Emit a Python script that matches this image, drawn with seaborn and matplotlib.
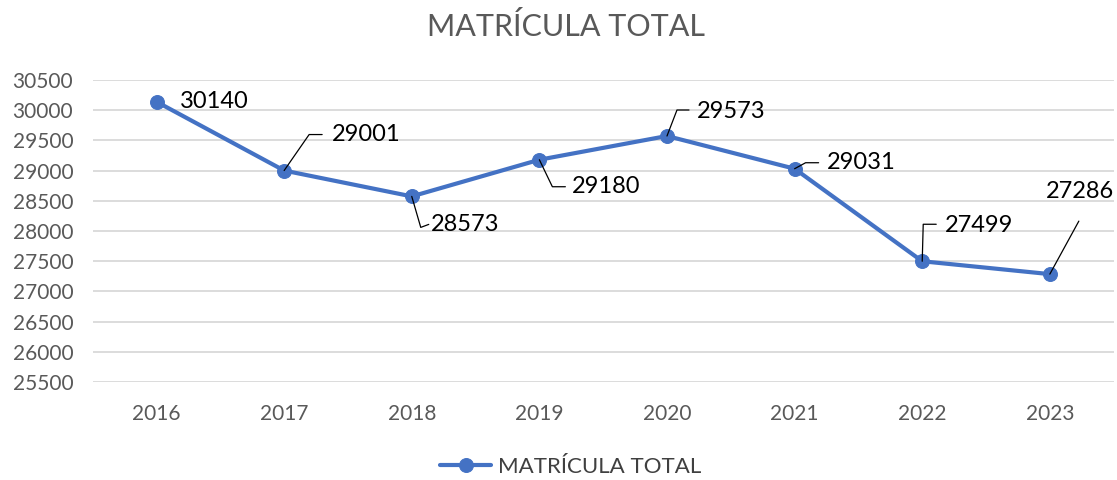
import matplotlib
matplotlib.use("Agg")
import matplotlib.pyplot as plt
import matplotlib.transforms as mtransforms
import pandas as pd
import seaborn as sns

years = ["2016", "2017", "2018", "2019", "2020", "2021", "2022", "2023"]
matricula = [30140, 29001, 28573, 29180, 29573, 29031, 27499, 27286]
series_name = "MATRÍCULA TOTAL"
y_ticks = list(range(25500, 30501, 500))

# label placement, in pixels relative to the marker (x right, y up)
label_offsets = [(23, 0), (48, 36), (19, -28), (33, -27), (30, 25), (32, 6), (23, 36), (-4, 72)]
leader_paths = [
    None,
    [(0, 0), (25, 36), (38, 36)],
    [(0, 0), (9, -31), (17, -28)],
    [(0, 0), (13, -27), (26, -27)],
    [(0, 0), (10, 26), (22, 26)],
    [(0, 0), (11, 6), (24, 6)],
    [(0, 0), (1, 37), (14, 37)],
    [(0, 0), (29, 53)],
]

BLUE = "#4472C4"
GREY = "#595959"

sns.set_theme(style="white")
plt.rcParams["font.family"] = ["Lato", "DejaVu Sans"]

df = pd.DataFrame({"year": years, "value": matricula})

fig = plt.figure(figsize=(11.17, 4.8), dpi=100)
ax = fig.add_axes([0.083, 0.2042, 0.914, 0.6291])

sns.lineplot(data=df, x="year", y="value", ax=ax, color=BLUE, lw=3,
             marker="o", markersize=10, markeredgecolor=BLUE, label=series_name,
             zorder=3)

ax.set_ylim(25500, 30500)
ax.set_xlim(-0.5, len(years) - 0.5)
ax.set_yticks(y_ticks)
ax.yaxis.grid(True, color="#D9D9D9", lw=1.3)
ax.set_axisbelow(True)
for s in ax.spines.values():
    s.set_visible(False)
ax.tick_params(axis="both", length=0, labelsize=15, labelcolor=GREY)
ax.tick_params(axis="x", pad=16)
ax.tick_params(axis="y", pad=14)
ax.set_xlabel(""); ax.set_ylabel("")

fig.suptitle(series_name, fontsize=22, color=GREY, x=0.507, y=0.975, va="top")

# data labels with leader lines
fig.canvas.draw()
for i, v in enumerate(matricula):
    px, py = ax.transData.transform((i, v))
    dx, dy = label_offsets[i]
    va = "bottom" if i == len(matricula) - 1 else "center"
    ax.text(px + dx, py + dy, f"{v}", transform=None, fontsize=17,
            color="black", ha="left", va=va)
    path = leader_paths[i]
    if path:
        xs = [px + a for a, b in path]
        ys = [py + b for a, b in path]
        ax.plot(xs, ys, transform=mtransforms.IdentityTransform(),
                color="black", lw=0.9, zorder=4)

leg = ax.legend(loc="center", bbox_to_anchor=(0.511, 0.028),
                bbox_transform=fig.transFigure, frameon=False,
                fontsize=16, handlelength=2.3, handletextpad=0.3)
for t in leg.get_texts():
    t.set_color("#404040")

fig.savefig("out.png", dpi=100)
